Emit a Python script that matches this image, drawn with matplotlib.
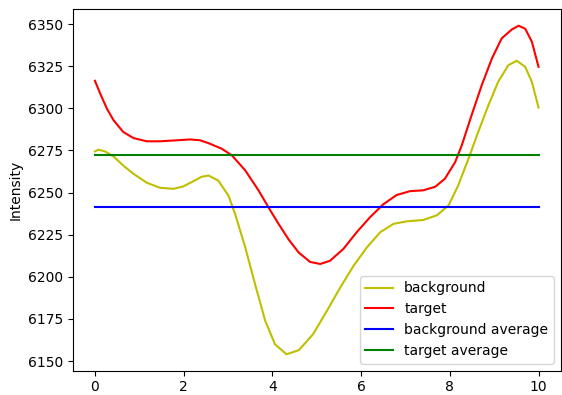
import matplotlib
matplotlib.use("Agg")
import matplotlib.pyplot as plt

bg_x = [0, 0.08, 0.23, 0.42, 0.64, 0.87, 1.17, 1.47, 1.77, 1.99, 2.22, 2.4, 2.56, 2.78,
        3.01, 3.16, 3.39, 3.61, 3.84, 4.06, 4.32, 4.6, 4.92, 5.23, 5.53, 5.83, 6.13,
        6.43, 6.73, 7.03, 7.4, 7.71, 7.97, 8.19, 8.42, 8.64, 8.87, 9.09, 9.32, 9.51,
        9.7, 9.85, 10]
background = [6274.4, 6275.4, 6274.4, 6271.4, 6266, 6261.1, 6255.8, 6252.8, 6252.2, 6253.6,
              6256.7, 6259.3, 6260.1, 6257.1, 6248.2, 6237.3, 6217.4, 6195.6, 6173.8,
              6159.9, 6154, 6156.5, 6166, 6179.8, 6193.6, 6206.5, 6217.4, 6226.4, 6231.4,
              6232.9, 6233.7, 6236.5, 6242.3, 6254.2, 6270, 6285.9, 6301.8, 6315.7, 6325.6,
              6328.2, 6324.6, 6315.7, 6300.4]

tg_x = [0, 0.12, 0.27, 0.42, 0.64, 0.87, 1.17, 1.47, 1.85, 2.15, 2.37, 2.56, 2.86, 3.09,
        3.39, 3.69, 3.91, 4.14, 4.36, 4.59, 4.85, 5.08, 5.3, 5.6, 5.9, 6.2, 6.5, 6.8,
        7.1, 7.4, 7.67, 7.89, 8.12, 8.27, 8.49, 8.72, 8.95, 9.17, 9.4, 9.55, 9.7, 9.85, 10]
target = [6316.3, 6308.7, 6299.8, 6292.9, 6285.9, 6282.3, 6280.4, 6280.4, 6281, 6281.5,
          6281, 6279.3, 6276, 6272, 6263.1, 6251.2, 6241.3, 6231.4, 6222.4, 6214.5,
          6208.8, 6207.6, 6209.5, 6216.5, 6226.4, 6235.3, 6243, 6248.5, 6250.8, 6251.3,
          6253.4, 6258.2, 6268, 6278, 6295.8, 6313.7, 6329.6, 6341.5, 6346.8, 6349,
          6347.2, 6339.5, 6324.6]

avg_x = [0, 10]
background_avg = 6241.5
target_avg = 6272.0

fig = plt.figure(figsize=(5.62, 3.95), dpi=100)
ax = fig.add_axes([0.1294, 0.0615, 0.8683, 0.915])
ax.plot(bg_x, background, color='y', label='background')
ax.plot(tg_x, target, color='r', label='target')
ax.plot(avg_x, [background_avg] * 2, color='b', label='background average')
ax.plot(avg_x, [target_avg] * 2, color='g', label='target average')
ax.set_ylabel('Intensity')
ax.legend(loc='lower right')
fig.savefig('out.png', dpi=100)
